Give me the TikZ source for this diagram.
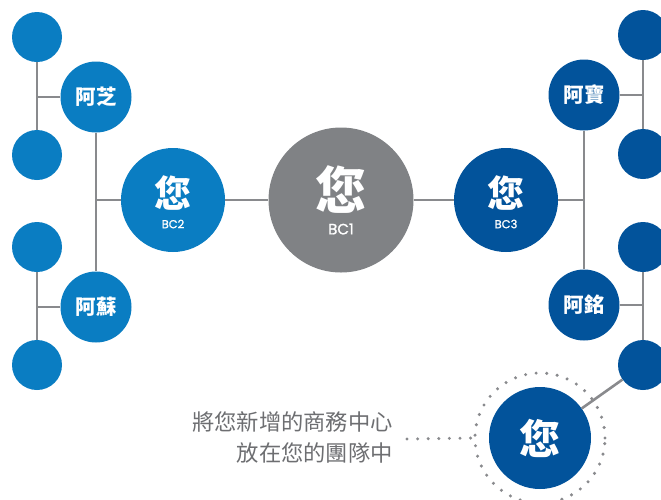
\documentclass[tikz,border=0pt]{standalone}
\usepackage{fontspec}
\setmainfont{Noto Sans CJK TC}
\newfontfamily\latinf[FakeBold=1.2]{Poppins}
\definecolor{lblue}{HTML}{0A7DC2}
\definecolor{dblue}{HTML}{02539B}
\definecolor{cgray}{HTML}{808285}
\definecolor{lgray}{HTML}{898A8D}
\definecolor{tgray}{HTML}{6D6E71}
\begin{document}
\begin{tikzpicture}[x=1pt,y=-1pt,
  dot/.style={circle,inner sep=0pt,minimum size=50pt},
  mid/.style={circle,inner sep=0pt,minimum size=71pt,text=white,font=\fontsize{20.5}{20.5}\selectfont\bfseries},
  big/.style={circle,inner sep=0pt,minimum size=104pt,text=white,align=center},
  conn/.style={draw=lgray,line width=2.6pt},
  dotline/.style={draw=lgray,line width=3.4pt,line cap=round,dash pattern=on 0pt off 10.6pt}]
\useasboundingbox (0,0) rectangle (661,499);
% left tree
\node[dot,fill=lblue] (l1) at (37,37) {};
\node[dot,fill=lblue] (l2) at (37,155) {};
\node[dot,fill=lblue] (l3) at (37,247) {};
\node[dot,fill=lblue] (l4) at (37,365) {};
\node[mid,fill=lblue] (azhi) at (96,97) {阿芝};
\node[mid,fill=lblue] (asu) at (96,307) {阿蘇};
\node[big,fill=lblue] (bc2) at (173,200) {};
\node[text=white,font=\fontsize{37}{37}\selectfont\bfseries] (y2) at (173,193) {您};
\node[text=white,font=\latinf\fontsize{11.5}{11.5}\selectfont] (t2) at (173,224) {BC2};
% center
\node[circle,inner sep=0pt,minimum size=145pt,fill=cgray] (bc1) at (341,200) {};
\node[text=white,font=\fontsize{51}{51}\selectfont\bfseries] (y1) at (341,190) {您};
\node[text=white,font=\latinf\fontsize{15}{15}\selectfont] (t1) at (341,229) {BC1};
% right tree
\node[big,fill=dblue] (bc3) at (506,200) {};
\node[text=white,font=\fontsize{37}{37}\selectfont\bfseries] (y3) at (506,193) {您};
\node[text=white,font=\latinf\fontsize{11.5}{11.5}\selectfont] (t3) at (506,224) {BC3};
\node[mid,fill=dblue] (abao) at (584,95) {阿寶};
\node[mid,fill=dblue] (aming) at (584,305) {阿銘};
\node[dot,fill=dblue] (r1) at (643,35) {};
\node[dot,fill=dblue] (r2) at (643,154) {};
\node[dot,fill=dblue] (r3) at (643,247) {};
\node[dot,fill=dblue] (r4) at (643,365) {};
% new
\node[circle,inner sep=0pt,minimum size=130pt,dotline] (ring) at (540,438) {};
\node[circle,inner sep=0pt,minimum size=102pt,fill=dblue,text=white,font=\fontsize{41}{41}\selectfont\bfseries] (new) at (540,438) {您};
\node[anchor=east,align=right,text=tgray,font=\fontsize{22.3}{31}\selectfont,inner sep=0pt] (txt) at (393,437) {將您新增的商務中心\\放在您的團隊中};
\coordinate (dstart) at (407,439);
% connectors
\draw[conn] (l1.south) -- (l2.north);
\draw[conn] (azhi.west) -- (azhi.west -| l1);
\draw[conn] (l3.south) -- (l4.north);
\draw[conn] (asu.west) -- (asu.west -| l3);
\draw[conn] (azhi.south) -- (asu.north);
\draw[conn] (bc2.west) -- (bc2.west -| azhi);
\draw[conn] (bc2.east) -- (bc1.west);
\draw[conn] (bc1.east) -- (bc3.west);
\draw[conn] (abao.south) -- (aming.north);
\draw[conn] (bc3.east) -- (bc3.east -| abao);
\draw[conn] (r1.south) -- (r2.north);
\draw[conn] (abao.east) -- (abao.east -| r1);
\draw[conn] (r3.south) -- (r4.north);
\draw[conn] (aming.east) -- (aming.east -| r3);
\draw[conn] (r4) -- (new);
\draw[dotline] (dstart) -- (ring.west);
\end{tikzpicture}
\end{document}
